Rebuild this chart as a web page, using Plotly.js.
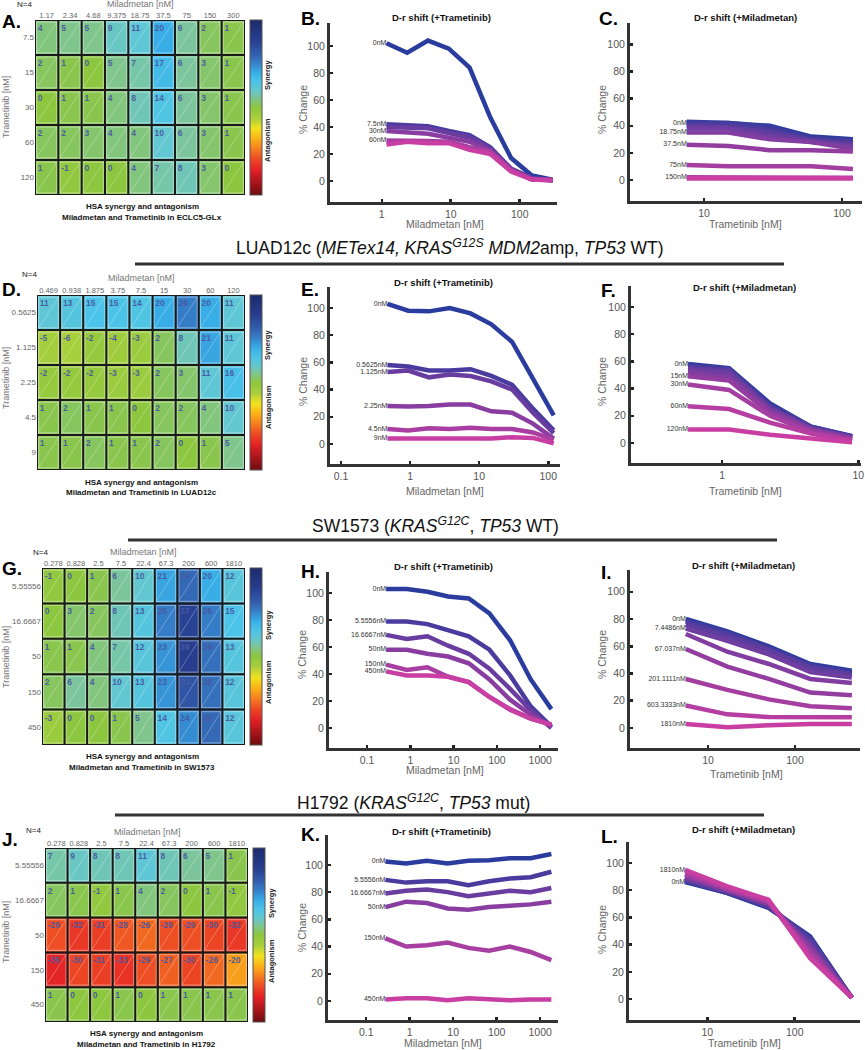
<!DOCTYPE html>
<html>
<head>
<meta charset="utf-8">
<script src="https://cdn.plot.ly/plotly-3.0.1.min.js"></script>
<style>
  html, body { margin: 0; padding: 0; background: #fff; }
  #fig { width: 865px; height: 1050px; }
</style>
</head>
<body>
<div id="fig"></div>
<script>
// ---------- ECLC5-GLx (A-C) ----------
const eclcMilaTicks = ['1.17', '2.34', '4.68', '9.375', '18.75', '37.5', '75', '150', '300'];
const eclcTramTicks = ['7.5', '15', '30', '60', '120'];
const eclcHsa = [
  [4, 5, 5, 9, 11, 20, 6, 2, 1],
  [2, 1, 0, 5, 7, 17, 6, 3, 1],
  [0, 1, 1, 4, 8, 14, 6, 3, 1],
  [2, 2, 3, 4, 4, 10, 6, 3, 1],
  [1, -1, 0, 0, 4, 7, 8, 3, 0]
];
// B: one curve per trametinib dose 0, 7.5, 15, 30, 60, 120 nM
const eclcShiftTram = [
  [102, 95, 104, 98, 84, 47, 17, 4, 1],
  [42, 41, 40.5, 37, 34, 25, 9, 2, 0.5],
  [40, 39.5, 39, 35.5, 32, 24, 9, 2, 0.5],
  [37, 36, 35, 32, 29, 22, 8, 1.5, 0.5],
  [30, 30, 29.5, 29, 25, 22, 8, 1, 0.5],
  [27, 29, 28, 28, 23, 20, 7, 1, 0.5]
];
const eclcShiftTramLabels = ['0nM', '7.5nM', '', '30nM', '60nM', ''];
// C: one curve per miladmetan dose 0, 1.17 ... 300 nM
const eclcShiftMila = [
  [42, 42, 40, 32, 30],
  [43, 42, 39, 31, 29],
  [41, 41, 37, 30, 28],
  [40, 39, 35, 29, 26],
  [38, 38, 32, 28, 25],
  [35, 35, 30, 28, 23],
  [26, 25, 22, 22, 21],
  [11, 10, 10, 10, 8],
  [2, 2, 2, 1.5, 1.5],
  [1, 1, 1, 1, 1]
];
const eclcShiftMilaLabels = ['0nM', '', '', '', '', '18.75nM', '37.5nM', '75nM', '150nM', ''];

// ---------- LUAD12c (D-F) ----------
const luadMilaTicks = ['0.469', '0.938', '1.875', '3.75', '7.5', '15', '30', '60', '120'];
const luadTramTicks = ['0.5625', '1.125', '2.25', '4.5', '9'];
const luadHsa = [
  [11, 13, 15, 15, 14, 20, 26, 20, 11],
  [-5, -6, -2, -4, -3, 2, 8, 21, 11],
  [-2, -2, -2, -3, -3, 2, 3, 11, 16],
  [1, 2, 1, 1, 0, 2, 2, 4, 10],
  [1, 1, 2, 1, 1, 2, 0, 1, 5]
];
const luadShiftTram = [
  [103, 98, 97.5, 100, 96, 88, 75, 48, 21],
  [58, 57, 54, 54, 55, 50, 43.5, 26, 10],
  [53, 54, 49, 51, 50, 46, 40, 23, 8],
  [28, 27.5, 28, 29, 29, 24, 23, 15, 4],
  [11, 10, 11.5, 11, 12, 11, 11, 8.5, 3],
  [4, 4, 3.5, 4, 4, 4, 5, 4.5, 0.5]
];
const luadShiftTramLabels = ['0nM', '0.5625nM', '1.125nM', '2.25nM', '4.5nM', '9nM'];
const luadShiftMila = [
  [58, 55, 29, 12, 5],
  [57, 54.5, 28, 12, 5],
  [56, 54, 27, 11.5, 4.5],
  [55, 53, 26, 11, 4.5],
  [54, 51, 25, 10.5, 4],
  [52, 48, 24, 10, 3.5],
  [49, 46, 22, 9, 3],
  [43, 39, 20, 8, 2],
  [27, 25, 15, 7, 1.5],
  [10, 10, 6, 3, 0.5]
];
const luadShiftMilaLabels = ['0nM', '', '', '', '', '', '15nM', '30nM', '60nM', '120nM'];

// ---------- SW1573 and H1792 share the dose grid (G-L) ----------
const g12cMilaTicks = ['0.278', '0.828', '2.5', '7.5', '22.4', '67.3', '200', '600', '1810'];
const g12cTramTicks = ['5.55556', '16.6667', '50', '150', '450'];
const g12cMilaNM = [0.2759, 0.8276, 2.4829, 7.4486, 22.3457, 67.037, 201.1111, 603.3333, 1810];
const g12cTramNM = [5.5556, 16.6667, 50, 150, 450];

const swHsa = [
  [-1, 0, 1, 6, 10, 21, 29, 20, 12],
  [0, 3, 2, 8, 13, 26, 37, 26, 15],
  [1, 1, 4, 7, 12, 23, 39, 28, 13],
  [2, 6, 4, 10, 13, 23, 33, 28, 12],
  [-3, 0, 0, 1, 5, 14, 24, 29, 12]
];
const swShiftTram = [
  [103, 103, 101, 97.5, 96, 85, 65, 36, 14],
  [79, 79, 77, 72.5, 68, 58, 39, 16, 1],
  [69, 66, 68, 61, 55, 44, 29, 13, 0],
  [58, 58, 55, 53, 48, 36, 21, 10, 1],
  [47, 43, 45, 38, 34, 23, 13.5, 7, 2.5],
  [42, 39, 39, 38, 34, 23, 14, 7, 2.5]
];
const swShiftTramLabels = ['0nM', '5.5556nM', '16.6667nM', '50nM', '150nM', '450nM'];
const swShiftMila = [
  [80, 71, 60, 47, 42],
  [79, 70, 59, 46, 41],
  [78, 69, 58, 45, 40],
  [76, 67, 57, 44, 39],
  [73, 64, 54, 41, 37],
  [69, 56, 47, 36, 33],
  [58, 45, 36, 26, 24],
  [36, 28, 21, 16, 14.5],
  [16.5, 10, 8, 7.8, 7.8],
  [3, 0.5, 2, 3, 3]
];
const swShiftMilaLabels = ['0nM', '', '', '', '7.4486nM', '', '67.037nM', '201.1111nM', '603.3333nM', '1810nM'];

const h1792Hsa = [
  [7, 9, 8, 8, 11, 8, 6, 5, 1],
  [2, 1, -1, 1, 4, 2, 0, 1, -1],
  [-29, -32, -31, -28, -26, -29, -29, -30, -32],
  [-35, -30, -31, -33, -29, -27, -30, -26, -20],
  [1, 0, 0, 1, 0, 1, 1, 1, 1]
];
const h1792ShiftTram = [
  [102.5, 101, 103, 101, 103, 103.5, 105, 105, 108],
  [89, 87, 88, 88, 85, 88, 90, 91, 95],
  [79, 81, 82, 80, 77, 79, 81, 80, 83],
  [69, 73, 72, 68, 67, 69, 70, 71, 73],
  [46, 40, 41, 43, 39, 37, 40, 36, 30],
  [1, 2, 2, 0.5, 2, 1, 0.5, 1, 1]
];
const h1792ShiftTramLabels = ['0nM', '5.5556nM', '16.6667nM', '50nM', '150nM', '450nM'];
const h1792ShiftMila = [
  [86, 78, 67, 46, 1],
  [87, 78, 68, 45, 1],
  [87, 79, 68, 44, 1],
  [88, 79, 69, 42, 1],
  [89, 80, 70, 40, 1],
  [90, 80, 70, 38, 1],
  [91, 81, 71, 36, 1],
  [92, 81, 72, 34, 1],
  [94, 82, 72, 32, 1],
  [95, 83, 73, 30, 1]
];
const h1792ShiftMilaLabels = ['0nM', '', '', '', '', '', '', '', '', '1810nM'];

// ---------- drawing ----------
const W = 865, H = 1050;
const FONT = 'Liberation Sans, Arial, Helvetica, sans-serif';
const traces = [];
const shapes = [];
const annotations = [];
const layout = {
  width: W, height: H,
  margin: { l: 0, r: 0, t: 0, b: 0 },
  paper_bgcolor: '#fff', plot_bgcolor: 'rgba(0,0,0,0)',
  showlegend: false,
  font: { family: FONT }
};

// HSA colour map, green at 0, blue = synergy, red = antagonism
const hsaScale = [
  [0.00, '#6e0b0e'], [0.14, '#e21f26'], [0.20, '#ec4524'], [0.26, '#f47b20'],
  [0.32, '#fbb017'], [0.38, '#f2e21e'], [0.44, '#a8cf3c'], [0.50, '#8dc63f'],
  [0.56, '#7cc59c'], [0.60, '#62c7d0'], [0.65, '#4cc3e8'], [0.70, '#38ade6'],
  [0.75, '#3684cc'], [0.80, '#3362b0'], [0.88, '#283f90'], [1.00, '#1b2a6b']
];

function note(text, x, y, font, extra) {
  annotations.push(Object.assign({
    text: text, x: x / W, y: 1 - y / H, xref: 'paper', yref: 'paper',
    showarrow: false, xanchor: 'center', yanchor: 'middle', font: font
  }, extra || {}));
}
function axKey(id) { return id === 1 ? '' : String(id); }
function hline(x0, x1, y) {
  shapes.push({ type: 'line', xref: 'paper', yref: 'paper', x0: x0 / W, x1: x1 / W, y0: 1 - y / H, y1: 1 - y / H,
    line: { color: '#333', width: 3 } });
}

function addHeatmap(id, p) {
  const k = axKey(id), xa = 'x' + k, ya = 'y' + k;
  const nc = p.cols.length, nr = p.rows.length;
  const [x0, x1, top, bot] = p.box;
  const colIdx = p.cols.map((_, i) => i), rowIdx = p.rows.map((_, i) => i);

  traces.push({
    type: 'heatmap', z: p.z, x: colIdx, y: rowIdx, xaxis: xa, yaxis: ya,
    zmin: -50, zmax: 50, colorscale: hsaScale, hoverinfo: 'skip',
    colorbar: {
      x: p.cb / W, xanchor: 'left', y: 1 - (top + bot) / 2 / H, yanchor: 'middle',
      len: (bot - top) / H, thickness: 12, outlinecolor: '#555', outlinewidth: 1,
      showticklabels: false, ticks: '', xpad: 0, ypad: 0
    }
  });

  const tx = [], ty = [], tt = [];
  p.z.forEach((row, r) => row.forEach((v, c) => {
    tx.push(c - 0.38); ty.push(r - 0.25); tt.push(String(v));
    shapes.push({ type: 'line', xref: xa, yref: ya, x0: c - 0.5, y0: r + 0.5, x1: c + 0.5, y1: r - 0.5,
      line: { color: 'rgba(255,255,255,0.28)', width: 1 } });
    shapes.push({ type: 'rect', xref: xa, yref: ya, x0: c - 0.43, x1: c + 0.43, y0: r - 0.44, y1: r + 0.44,
      line: { color: 'rgba(255,255,255,0.35)', width: 1.2 } });
  }));
  traces.push({
    type: 'scatter', mode: 'text', x: tx, y: ty, text: tt, textposition: 'middle right',
    textfont: { family: FONT, size: 8.5, color: 'rgba(72,88,160,0.95)', weight: 'bold' },
    xaxis: xa, yaxis: ya, hoverinfo: 'skip', cliponaxis: false
  });

  for (let c = 0; c <= nc; c++) {
    shapes.push({ type: 'line', xref: xa, yref: ya, x0: c - 0.5, x1: c - 0.5, y0: -0.5, y1: nr - 0.5,
      line: { color: '#1a1a1a', width: 2 } });
  }
  for (let r = 0; r <= nr; r++) {
    shapes.push({ type: 'line', xref: xa, yref: ya, x0: -0.5, x1: nc - 0.5, y0: r - 0.5, y1: r - 0.5,
      line: { color: '#1a1a1a', width: 2 } });
  }

  layout['xaxis' + k] = {
    domain: [x0 / W, x1 / W], anchor: ya, side: 'top', range: [-0.5, nc - 0.5],
    tickvals: colIdx, ticktext: p.cols, ticks: '', showgrid: false, zeroline: false, showline: false,
    tickfont: { family: FONT, size: 7.5, color: '#666' }
  };
  layout['yaxis' + k] = {
    domain: [1 - bot / H, 1 - top / H], anchor: xa, range: [nr - 0.5, -0.5],
    tickvals: rowIdx, ticktext: p.rows, ticks: '', showgrid: false, zeroline: false, showline: false,
    tickfont: { family: FONT, size: 8, color: '#666' }
  };

  const lab = p.labels;
  note(p.letter, lab.letter[0], lab.letter[1], { family: FONT, size: 19, color: '#000', weight: 'bold' }, { xanchor: 'left' });
  note('N=4', lab.n[0], lab.n[1], { family: FONT, size: 8, color: '#222' });
  note('Miladmetan [nM]', lab.mila[0], lab.mila[1], { family: FONT, size: 9, color: '#777' });
  note('Trametinib [nM]', 6, lab.tram, { family: FONT, size: 9, color: '#777' }, { textangle: -90 });
  note('Synergy', p.cb + 18, lab.syn, { family: FONT, size: 7.5, color: '#222', weight: 'bold' }, { textangle: -90 });
  note('Antagonism', p.cb + 18, lab.ant, { family: FONT, size: 7.5, color: '#222', weight: 'bold' }, { textangle: -90 });
  note('HSA synergy and antagonism', lab.sub[0], lab.sub[1], { family: FONT, size: 8, color: '#111', weight: 'bold' });
  note('Miladmetan and Trametinib in ' + p.cell, lab.sub[0], lab.sub[1] + 11, { family: FONT, size: 8, color: '#111', weight: 'bold' });
}

function shiftColor(t) {
  const a = [42, 60, 158], b = [200, 62, 162];
  const c = a.map((v, i) => Math.round(v + (b[i] - v) * t));
  return 'rgb(' + c.join(',') + ')';
}

function addShift(id, p) {
  const k = axKey(id), xa = 'x' + k, ya = 'y' + k;
  const [x0, x1, top, bot] = p.box;
  const n = p.series.length;
  p.series.forEach((ys, i) => {
    traces.push({ type: 'scatter', mode: 'lines', x: p.x, y: ys, xaxis: xa, yaxis: ya,
      line: { color: shiftColor(i / (n - 1)), width: 4.5 }, hoverinfo: 'skip' });
  });
  const lx = [], ly = [], lt = [];
  p.labels.forEach((t, i) => { if (t) { lx.push(p.x[0]); ly.push(p.series[i][0]); lt.push(t); } });
  traces.push({ type: 'scatter', mode: 'text', x: lx, y: ly, text: lt, textposition: 'middle left',
    textfont: { family: FONT, size: 7, color: '#333' }, xaxis: xa, yaxis: ya, hoverinfo: 'skip', cliponaxis: false });

  const axisStyle = {
    showline: true, linecolor: '#333', linewidth: 3, ticks: 'inside', ticklen: 3, tickwidth: 2.5,
    tickcolor: '#222', showgrid: false, zeroline: false,
    tickfont: { family: FONT, size: 10.5, color: '#555' }
  };
  layout['xaxis' + k] = Object.assign({}, axisStyle, {
    domain: [x0 / W, x1 / W], anchor: ya, type: 'log', range: p.xrange, tickvals: p.xticks,
    ticktext: p.xticks.map(String)
  });
  layout['yaxis' + k] = Object.assign({}, axisStyle, {
    domain: [1 - bot / H, 1 - top / H], anchor: xa, range: p.yrange, tickvals: [0, 20, 40, 60, 80, 100]
  });

  const lab = p.pos;
  note(p.letter, lab.letter[0], lab.letter[1], { family: FONT, size: 19, color: '#000', weight: 'bold' }, { xanchor: 'left' });
  note(p.title, lab.title[0], lab.title[1], { family: FONT, size: 9.5, color: '#111', weight: 'bold' });
  note('% Change', lab.ytitle[0], lab.ytitle[1], { family: FONT, size: 10.5, color: '#666' }, { textangle: -90 });
  note(p.xtitle, lab.xtitle[0], lab.xtitle[1], { family: FONT, size: 10.5, color: '#666' });
}

// Row 1: ECLC5-GLx
addHeatmap(1, {
  z: eclcHsa, cols: eclcMilaTicks, rows: eclcTramTicks, box: [35, 245, 20, 195], cb: 250,
  letter: 'A.', cell: 'ECLC5-GLx',
  labels: { letter: [0, 21], n: [24, 4], mila: [140, 4], tram: 107, syn: 75, ant: 140, sub: [142, 206] }
});
addShift(2, {
  x: eclcMilaTicks.map(Number), series: eclcShiftTram, labels: eclcShiftTramLabels,
  box: [330, 557, 23, 202], xrange: [-0.75, 2.54], yrange: [-15.6, 117], xticks: [1, 10, 100],
  letter: 'B.', title: 'D-r shift (+Trametinib)', xtitle: 'Miladmetan [nM]',
  pos: { letter: [299, 19], title: [442, 18], ytitle: [303, 110], xtitle: [445, 224] }
});
addShift(3, {
  x: eclcTramTicks.map(Number), series: eclcShiftMila, labels: eclcShiftMilaLabels,
  box: [630, 862, 23, 201], xrange: [0.464, 2.145], yrange: [-15.6, 116], xticks: [10, 100],
  letter: 'C.', title: 'D-r shift (+Miladmetan)', xtitle: 'Trametinib [nM]',
  pos: { letter: [597, 19], title: [745, 17], ytitle: [602, 110], xtitle: [745, 224] }
});

// Row 2: LUAD12c
note('LUAD12c (<i>METex14, KRAS<sup>G12S</sup> MDM2</i>amp, <i>TP53</i> WT)', 450, 247,
  { family: FONT, size: 17.5, color: '#111' });
hline(135, 784, 264);
addHeatmap(4, {
  z: luadHsa, cols: luadMilaTicks, rows: luadTramTicks, box: [37, 245, 295, 470], cb: 250,
  letter: 'D.', cell: 'LUAD12c',
  labels: { letter: [0, 289], n: [30, 275], mila: [141, 278], tram: 378, syn: 345, ant: 407, sub: [141, 482] }
});
addShift(5, {
  x: luadMilaTicks.map(Number), series: luadShiftTram, labels: luadShiftTramLabels,
  box: [330, 560, 287, 464], xrange: [-1.16, 2.17], yrange: [-14.7, 115.4], xticks: [0.1, 1, 10, 100],
  letter: 'E.', title: 'D-r shift (+Trametinib)', xtitle: 'Miladmetan [nM]',
  pos: { letter: [299, 289], title: [443, 282], ytitle: [303, 382], xtitle: [445, 491] }
});
addShift(6, {
  x: luadTramTicks.map(Number), series: luadShiftMila, labels: luadShiftMilaLabels,
  box: [631, 861, 286, 463], xrange: [-0.669, 1.02], yrange: [-14.7, 115.4], xticks: [1, 10],
  letter: 'F.', title: 'D-r shift (+Miladmetan)', xtitle: 'Trametinib [nM]',
  pos: { letter: [599, 290], title: [744, 288], ytitle: [602, 382], xtitle: [745, 491] }
});

// Row 3: SW1573
note('SW1573 (<i>KRAS<sup>G12C</sup></i>, <i>TP53</i> WT)', 435, 525, { family: FONT, size: 17.5, color: '#111' });
hline(128, 777, 540);
addHeatmap(7, {
  z: swHsa, cols: g12cMilaTicks, rows: g12cTramTicks, box: [42, 245, 568, 745], cb: 250,
  letter: 'G.', cell: 'SW1573',
  labels: { letter: [0, 568], n: [40, 552], mila: [143, 552], tram: 657, syn: 625, ant: 682, sub: [142, 756] }
});
addShift(8, {
  x: g12cMilaNM, series: swShiftTram, labels: swShiftTramLabels,
  box: [329, 558, 572, 748], xrange: [-1.878, 3.41], yrange: [-14.8, 115.6], xticks: [0.1, 1, 10, 100, 1000],
  letter: 'H.', title: 'D-r shift (+Trametinib)', xtitle: 'Miladmetan [nM]',
  pos: { letter: [299, 571], title: [443, 566], ytitle: [302, 655], xtitle: [445, 770] }
});
addShift(9, {
  x: g12cTramNM, series: swShiftMila, labels: swShiftMilaLabels,
  box: [630, 860, 570, 748], xrange: [0.103, 2.747], yrange: [-14.7, 116], xticks: [10, 100],
  letter: 'I.', title: 'D-r shift (+Miladmetan)', xtitle: 'Trametinib [nM]',
  pos: { letter: [599, 572], title: [743, 565], ytitle: [602, 655], xtitle: [746, 774] }
});

// Row 4: H1792
note('H1792 (<i>KRAS<sup>G12C</sup></i>, <i>TP53</i> mut)', 413, 802, { family: FONT, size: 17.5, color: '#111' });
hline(115, 764, 815);
addHeatmap(10, {
  z: h1792Hsa, cols: g12cMilaTicks, rows: g12cTramTicks, box: [45, 248, 848, 1022], cb: 253,
  letter: 'J.', cell: 'H1792',
  labels: { letter: [0, 839], n: [33, 830], mila: [147, 832], tram: 932, syn: 903, ant: 961, sub: [146, 1033] }
});
addShift(11, {
  x: g12cMilaNM, series: h1792ShiftTram, labels: h1792ShiftTramLabels,
  box: [328, 558, 835, 1020], xrange: [-1.878, 3.41], yrange: [-14, 122], xticks: [0.1, 1, 10, 100, 1000],
  letter: 'K.', title: 'D-r shift (+Trametinib)', xtitle: 'Miladmetan [nM]',
  pos: { letter: [299, 834], title: [442, 831], ytitle: [302, 928], xtitle: [443, 1043] }
});
addShift(12, {
  x: g12cTramNM, series: h1792ShiftMila, labels: h1792ShiftMilaLabels,
  box: [629, 860, 842, 1020], xrange: [0.103, 2.747], yrange: [-15.4, 115.4], xticks: [10, 100],
  letter: 'L.', title: 'D-r shift (+Miladmetan)', xtitle: 'Trametinib [nM]',
  pos: { letter: [599, 836], title: [743, 829], ytitle: [602, 930], xtitle: [744, 1043] }
});

layout.shapes = shapes;
layout.annotations = annotations;
Plotly.newPlot('fig', traces, layout, { staticPlot: true, displayModeBar: false });
</script>
</body>
</html>
